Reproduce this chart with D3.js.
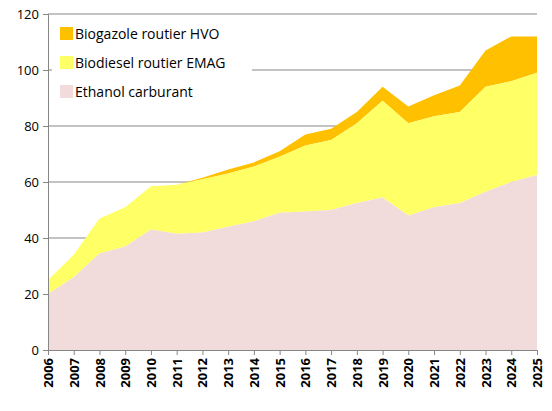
<!DOCTYPE html>
<html><head><meta charset="utf-8">
<script src="https://cdn.jsdelivr.net/npm/d3@7"></script>
<style>body{margin:0;background:#fff}text{font-family:"Open Sans","Liberation Sans",sans-serif}</style>
</head><body>
<svg id="c" width="552" height="411"></svg>
<script>
var years = d3.range(2006, 2026);
var ethanol = [20,26,34.5,37,43,41.5,42,44,46,49,49.5,50,52.5,54.5,48,51,52.5,56.5,60,62.5];
var emagTop = [25,34,47,51,58.5,59,61,63,65.5,69,73,75,81,89,81,83.5,85,94,96,99];
var hvoTop  = [25,34,47,51,58.5,59,61.5,64.5,67,71,77,79,85,94,87,91,94.5,107,112,112];
var yTicks = [0,20,40,60,80,100,120];
var series = [
  {name:"Biogazole routier HVO", color:"#ffc000", lo:emagTop, hi:hvoTop},
  {name:"Biodiesel routier EMAG", color:"#ffff66", lo:ethanol, hi:emagTop},
  {name:"Ethanol carburant", color:"#f2dcdb", lo:years.map(function(){return 0;}), hi:ethanol}
];

var svg = d3.select("#c");
var x = d3.scaleLinear().domain([2006,2025]).range([48,537]);
var y = d3.scaleLinear().domain([0,120]).range([350,14]);

svg.append("g").selectAll("line").data(yTicks.slice(1)).join("line")
  .attr("x1",48).attr("x2",537).attr("y1",function(d){return y(d);}).attr("y2",function(d){return y(d);})
  .attr("stroke","#868686").attr("stroke-width",1);

var area = function(s){
  return d3.area().x(function(d,i){return x(years[i]);})
    .y0(function(d,i){return y(s.lo[i]);}).y1(function(d,i){return y(s.hi[i]);})(years);
};
svg.append("g").selectAll("path").data(series).join("path")
  .attr("d",area).attr("fill",function(d){return d.color;});

// legend
svg.append("rect").attr("x",52).attr("y",18).attr("width",200).attr("height",92).attr("fill","#fff");
var lg = svg.append("g").selectAll("g").data(series).join("g")
  .attr("transform",function(d,i){return "translate(60,"+(34+i*29)+")";});
lg.append("rect").attr("x",0).attr("y",-7).attr("width",13).attr("height",13).attr("fill",function(d){return d.color;});
lg.append("text").attr("x",15).attr("y",5).attr("font-size",14).attr("fill","#000").text(function(d){return d.name;});

// axes
var ya = svg.append("g").attr("transform","translate(48,0)")
  .call(d3.axisLeft(y).tickValues(yTicks).tickSize(5).tickPadding(4));
ya.selectAll("text").attr("font-size",13).attr("fill","#000");
var xa = svg.append("g").attr("transform","translate(0,350)")
  .call(d3.axisBottom(x).tickValues(years).tickFormat(d3.format("d")).tickSize(5));
xa.selectAll("text").attr("font-size",13).attr("fill","#000").attr("font-weight","bold")
  .attr("transform","rotate(-90)").attr("text-anchor","end").attr("x",-8).attr("y",0).attr("dy","0.35em");
svg.selectAll(".domain, .tick line").attr("stroke","#868686");
</script>
</body></html>
